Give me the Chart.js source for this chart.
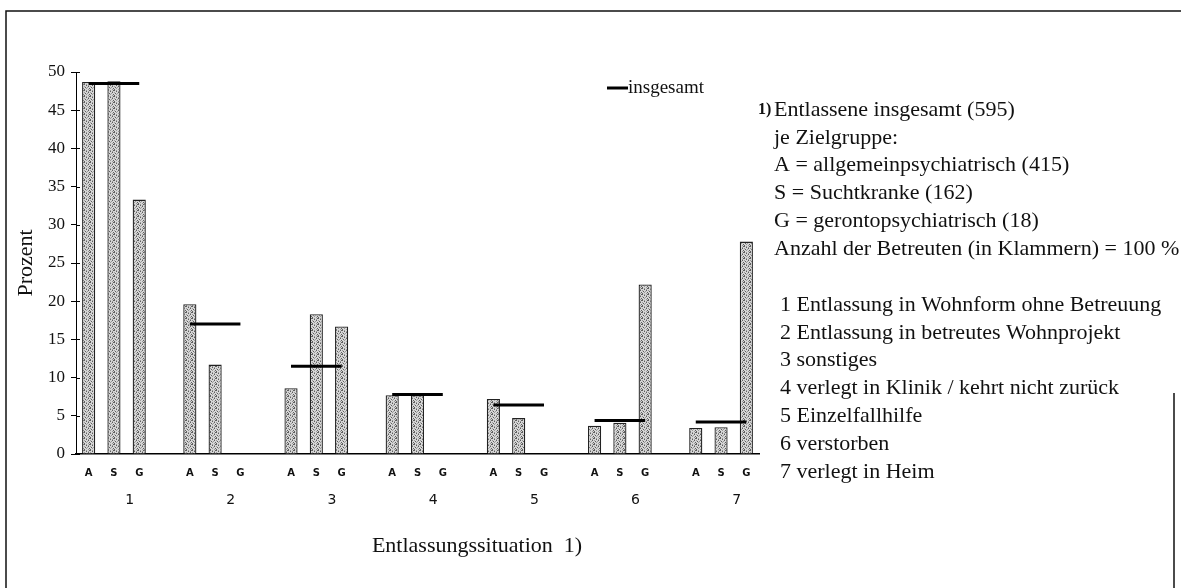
<!DOCTYPE html>
<html>
<head>
<meta charset="utf-8">
<script src="https://cdn.jsdelivr.net/npm/chart.js@4.4.0/dist/chart.umd.min.js"></script>
<style>
  html, body { margin: 0; padding: 0; background: #fff; }
</style>
</head>
<body>
<canvas id="grafico" width="1181" height="588"></canvas>
<script>
// Entlassungssituation je Zielgruppe, Prozent
const gruppen = ["1", "2", "3", "4", "5", "6", "7"];
const zielgruppen = ["A", "S", "G"];
const wertA = [48.7, 19.6, 8.6, 7.7, 7.2, 3.7, 3.4];
const wertS = [48.8, 11.7, 18.3, 7.7, 4.7, 4.1, 3.5];
const wertG = [33.3, 0, 16.7, 0, 0, 22.2, 27.8];
const insgesamt = [48.5, 17.0, 11.5, 7.8, 6.4, 4.4, 4.2];
const yTicks = [0, 5, 10, 15, 20, 25, 30, 35, 40, 45, 50];

const erlaeuterung = [
    "Entlassene insgesamt (595)",
    "je Zielgruppe:",
    "A = allgemeinpsychiatrisch (415)",
    "S = Suchtkranke (162)",
    "G = gerontopsychiatrisch (18)",
    "Anzahl der Betreuten (in Klammern) = 100 %"
];
const situationen = [
    "1 Entlassung in Wohnform ohne Betreuung",
    "2 Entlassung in betreutes Wohnprojekt",
    "3 sonstiges",
    "4 verlegt in Klinik / kehrt nicht zurück",
    "5 Einzelfallhilfe",
    "6 verstorben",
    "7 verlegt in Heim"
];

// A, S, G nebeneinander, danach eine leere Spalte als Abstand
let spalten = [], balken = [], linie = [];
gruppen.forEach((g, i) => {
    const werte = [wertA[i], wertS[i], wertG[i]];
    zielgruppen.forEach((z, k) => {
        spalten.push(z);
        balken.push(werte[k]);
        linie.push(insgesamt[i]);
    });
    if (i < gruppen.length - 1) {
        spalten.push("");
        balken.push(null);
        linie.push(null);
    }
});

const graf = document.getElementById("grafico");
const ctx = graf.getContext("2d");

// graues Punktraster für die Balken
function raster() {
    const muster = [
        "x.o..x",
        "..x.o.",
        "o...x.",
        ".x.o..",
        "..o..x",
        "x...o."
    ];
    const farben = { "x": "#5e5e5e", "o": "#9a9a9a", ".": "#d6d6d6" };
    const c = document.createElement("canvas");
    c.width = 6; c.height = 6;
    const g = c.getContext("2d");
    muster.forEach((zeile, yy) => {
        for (let xx = 0; xx < zeile.length; xx++) {
            g.fillStyle = farben[zeile[xx]];
            g.fillRect(xx, yy, 1, 1);
        }
    });
    return ctx.createPattern(c, "repeat");
}

const serif = "'Liberation Serif', 'Times New Roman', serif";

const beschriftung = {
    id: "beschriftung",
    afterDraw(chart) {
        const c = chart.ctx;
        const x = chart.scales.x, y = chart.scales.y;
        c.save();

        // Rahmen
        c.strokeStyle = "#111";
        c.lineWidth = 1.5;
        c.beginPath();
        c.moveTo(6, 588); c.lineTo(6, 11); c.lineTo(1181, 11);
        c.moveTo(1174, 393); c.lineTo(1174, 588);
        c.stroke();

        // Teilstriche nach innen
        c.lineWidth = 1;
        c.strokeStyle = "#000";
        yTicks.forEach(v => {
            const py = Math.round(y.getPixelForValue(v)) + 0.5;
            c.beginPath();
            c.moveTo(x.left, py); c.lineTo(x.left + 4, py);
            c.stroke();
        });

        // Gruppennummern
        const breite = x.width / spalten.length;
        c.fillStyle = "#111";
        c.font = "14px 'DejaVu Sans', sans-serif";
        c.textAlign = "center";
        c.textBaseline = "middle";
        gruppen.forEach((g, i) => {
            const px = x.getPixelForValue(i * 4 + 1) + 0.62 * breite;
            c.fillText(g, px, 500);
        });

        // Achsentitel unten
        c.font = "22px " + serif;
        c.fillText("Entlassungssituation  1)", 477, 546);

        // Legende
        c.lineWidth = 3;
        c.beginPath();
        c.moveTo(607, 88); c.lineTo(628, 88);
        c.stroke();
        c.textAlign = "left";
        c.font = "19px " + serif;
        c.fillText("insgesamt", 628, 88);

        // Erläuterungen rechts
        c.font = "bold 16px " + serif;
        c.fillText("1)", 758, 110);
        c.font = "22px " + serif;
        erlaeuterung.forEach((t, i) => c.fillText(t, 774, 110 + i * 27.8));
        situationen.forEach((t, i) => c.fillText(t, 780, 305 + i * 27.8));

        c.restore();
    }
};

new Chart(graf, {
    data: {
        labels: spalten,
        datasets: [
            {
                type: "line",
                label: "insgesamt",
                data: linie,
                borderColor: "#000",
                borderWidth: 3,
                borderCapStyle: "butt",
                pointRadius: 0,
                spanGaps: false,
                order: 0
            },
            {
                type: "bar",
                label: "Zielgruppe",
                data: balken,
                backgroundColor: raster(),
                borderColor: "#222",
                borderWidth: 1.3,
                barPercentage: 0.52,
                categoryPercentage: 1,
                order: 1
            }
        ]
    },
    options: {
        responsive: false,
        animation: false,
        layout: { padding: { left: 10, top: 72, right: 422, bottom: 0 } },
        plugins: {
            legend: { display: false },
            tooltip: { enabled: false }
        },
        scales: {
            x: {
                afterFit(scale) { scale.height = 134; },
                grid: { display: false, drawTicks: false },
                border: { color: "#000", width: 1.5 },
                ticks: {
                    autoSkip: false,
                    maxRotation: 0,
                    padding: 13,
                    color: "#111",
                    font: { family: "'DejaVu Sans', sans-serif", size: 10, weight: "bold" }
                }
            },
            y: {
                min: 0,
                max: 50,
                afterFit(scale) { scale.width = 66; },
                afterBuildTicks(scale) { scale.ticks = yTicks.map(v => ({ value: v })); },
                grid: { drawOnChartArea: false, color: "#000", tickLength: 5 },
                border: { color: "#000", width: 1 },
                ticks: {
                    padding: 6,
                    color: "#111",
                    font: { family: serif, size: 17 }
                },
                title: {
                    display: true,
                    text: "Prozent",
                    color: "#111",
                    font: { family: serif, size: 22 },
                    padding: { top: 3, bottom: 0 }
                }
            }
        }
    },
    plugins: [beschriftung]
});
</script>
</body>
</html>
